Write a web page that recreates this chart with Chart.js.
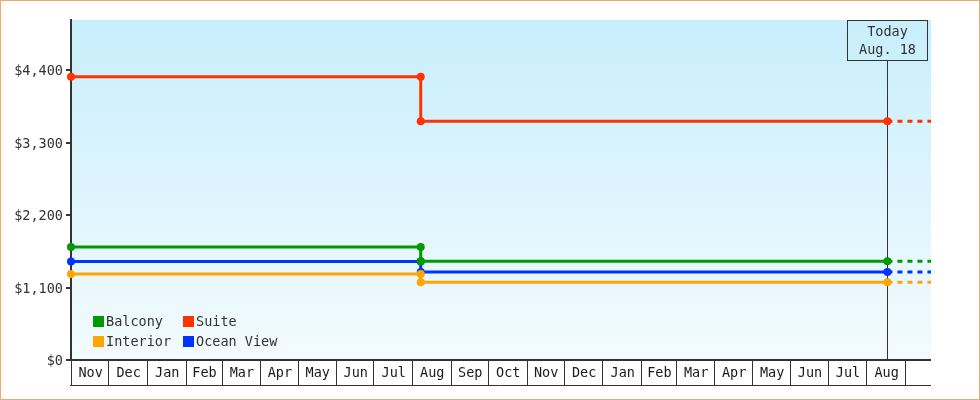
<!DOCTYPE html>
<html>
<head>
<meta charset="utf-8">
<script src="https://cdn.jsdelivr.net/npm/chart.js@4.4.1/dist/chart.umd.min.js"></script>
<style>
html, body { margin: 0; padding: 0; background: #fff; }
#wrap { width: 980px; height: 400px; box-sizing: border-box; border: 1px solid #eaad6a; }
canvas { display: block; }
</style>
</head>
<body>
<div id="wrap"><canvas id="fares" width="978" height="398"></canvas></div>
<script>
// fare history, one price per period starting at each fareDate
const seriesNames = ["Balcony", "Suite", "Interior", "Ocean View"];
const seriesColors = ["#009900", "#ff3300", "#ffa500", "#0033ff"];
const fareDates = ["2011-11-01", "2012-08-08"];
const balcony = [1715, 1500];
const suite = [4300, 3625];
const interior = [1305, 1180];
const oceanView = [1495, 1335];

const todayDate = "2013-08-18";
const todayLabel = ["Today", "Aug. 18"];
const axisStart = "2011-11-01";
const axisEnd = "2013-09-22";

const yTicks = [0, 1100, 2200, 3300, 4400];
const yMax = 5160;
const monthLabels = ["Nov", "Dec", "Jan", "Feb", "Mar", "Apr", "May", "Jun", "Jul", "Aug", "Sep",
	"Oct", "Nov", "Dec", "Jan", "Feb", "Mar", "Apr", "May", "Jun", "Jul", "Aug"];

const FONT_SIZE = 13.5;
const FONT = `${FONT_SIZE}px 'DejaVu Sans Mono'`;
const INK = "#333";

const startMs = Date.parse(axisStart);
/** @param {string} s */
const dayOf = s => (Date.parse(s) - startMs) / 86400000;

// each fare is held until the next change, the last one until today, then dotted to the axis end
const makePoints = fares => {
	const pts = [];
	fares.forEach((v, i) => {
		pts.push({ x: dayOf(fareDates[i]), y: v });
		const until = i + 1 < fares.length ? fareDates[i + 1] : todayDate;
		pts.push({ x: dayOf(until), y: v });
	});
	pts.push({ x: dayOf(axisEnd), y: fares[fares.length - 1] });
	return pts;
};

// month boundaries, starting at axisStart's month
const monthStarts = [];
{
	const d = new Date(startMs);
	for (let i = 0; i <= monthLabels.length; ++i) {
		const ms = Date.UTC(d.getUTCFullYear(), d.getUTCMonth() + i, 1);
		monthStarts.push((ms - startMs) / 86400000);
	}
}

const series = [balcony, suite, interior, oceanView];
const datasets = series.map((fares, i) => {
	const data = makePoints(fares);
	const last = data.length - 1;
	return {
		label: seriesNames[i],
		data,
		borderColor: seriesColors[i],
		backgroundColor: seriesColors[i],
		borderWidth: 3,
		pointRadius: ctx => ctx.dataIndex === last ? 0 : 4,
		pointBorderWidth: 0,
		pointBackgroundColor: seriesColors[i],
		clip: false,
		segment: {
			borderDash: ctx => ctx.p1DataIndex === last ? [5, 5] : undefined,
		},
	};
});

const backdrop = {
	id: "backdrop",
	beforeDraw(chart) {
		const { ctx, chartArea: a } = chart;
		const g = ctx.createLinearGradient(0, a.top, 0, a.bottom);
		g.addColorStop(0, "#c8eefc");
		g.addColorStop(1, "#f3fbff");
		ctx.save();
		ctx.fillStyle = g;
		ctx.fillRect(a.left, a.top, a.right - a.left, a.bottom - a.top);
		ctx.restore();
	}
};

const todayMarker = {
	id: "todayMarker",
	beforeDatasetsDraw(chart) {
		const { ctx, chartArea: a } = chart;
		const x = Math.round(chart.scales.x.getPixelForValue(dayOf(todayDate))) + 0.5;
		const w = 80, h = 40;
		ctx.save();
		ctx.strokeStyle = INK;
		ctx.lineWidth = 1;
		ctx.strokeRect(x - w / 2, a.top + 0.5, w, h);
		ctx.beginPath();
		ctx.moveTo(x, a.top + h);
		ctx.lineTo(x, a.bottom);
		ctx.stroke();
		ctx.fillStyle = INK;
		ctx.font = FONT;
		ctx.textAlign = "center";
		ctx.textBaseline = "middle";
		ctx.fillText(todayLabel[0], x, a.top + 12);
		ctx.fillText(todayLabel[1], x, a.top + 30);
		ctx.restore();
	}
};

const monthBand = {
	id: "monthBand",
	afterDraw(chart) {
		const { ctx, chartArea: a } = chart;
		const xs = chart.scales.x;
		const top = a.bottom, bottom = a.bottom + 25;
		ctx.save();
		ctx.strokeStyle = INK;
		ctx.lineWidth = 2;
		ctx.beginPath();
		ctx.moveTo(a.left - 1, top);
		ctx.lineTo(a.right, top);
		ctx.stroke();
		ctx.lineWidth = 1;
		ctx.beginPath();
		ctx.moveTo(a.left - 1, bottom + 0.5);
		ctx.lineTo(a.right, bottom + 0.5);
		for (const m of monthStarts) {
			const x = Math.round(xs.getPixelForValue(m)) + 0.5;
			ctx.moveTo(x, top);
			ctx.lineTo(x, bottom);
		}
		ctx.stroke();
		ctx.fillStyle = "#1a1a1a";
		ctx.font = FONT;
		ctx.textAlign = "center";
		ctx.textBaseline = "middle";
		monthLabels.forEach((label, i) => {
			const x0 = xs.getPixelForValue(monthStarts[i]);
			const x1 = xs.getPixelForValue(monthStarts[i + 1]);
			ctx.fillText(label, (x0 + x1) / 2 + 1, (top + bottom) / 2 + 1);
		});
		ctx.restore();
	}
};

const boxLegend = {
	id: "boxLegend",
	afterDatasetsDraw(chart) {
		const { ctx, chartArea: a } = chart;
		ctx.save();
		ctx.font = FONT;
		ctx.textBaseline = "middle";
		ctx.textAlign = "left";
		seriesNames.forEach((name, i) => {
			const x = a.left + 22 + (i % 2) * 90;
			const y = a.bottom - 44 + Math.floor(i / 2) * 20;
			ctx.fillStyle = seriesColors[i];
			ctx.fillRect(x, y, 11, 11);
			ctx.fillStyle = INK;
			ctx.fillText(name, x + 13, y + 6);
		});
		ctx.restore();
	}
};

new Chart(document.getElementById("fares"), {
	type: "line",
	data: { datasets },
	plugins: [backdrop, todayMarker, monthBand, boxLegend],
	options: {
		responsive: false,
		animation: false,
		events: [],
		layout: { padding: { top: 19, right: 48, bottom: 39, left: 0 } },
		plugins: { legend: { display: false }, tooltip: { enabled: false } },
		scales: {
			x: {
				type: "linear",
				display: false,
				min: 0,
				max: dayOf(axisEnd),
			},
			y: {
				min: 0,
				max: yMax,
				afterBuildTicks: s => { s.ticks = yTicks.map(value => ({ value })); },
				afterFit: s => { s.width = 70; },
				border: { color: INK, width: 2 },
				grid: { drawOnChartArea: false, tickLength: 5, color: INK, lineWidth: 2 },
				ticks: {
					padding: 3,
					labelOffset: 1.5,
					color: INK,
					font: { family: "'DejaVu Sans Mono'", size: FONT_SIZE },
					callback: v => "$" + v.toLocaleString("en-US"),
				},
			},
		},
	},
});
</script>
</body>
</html>
